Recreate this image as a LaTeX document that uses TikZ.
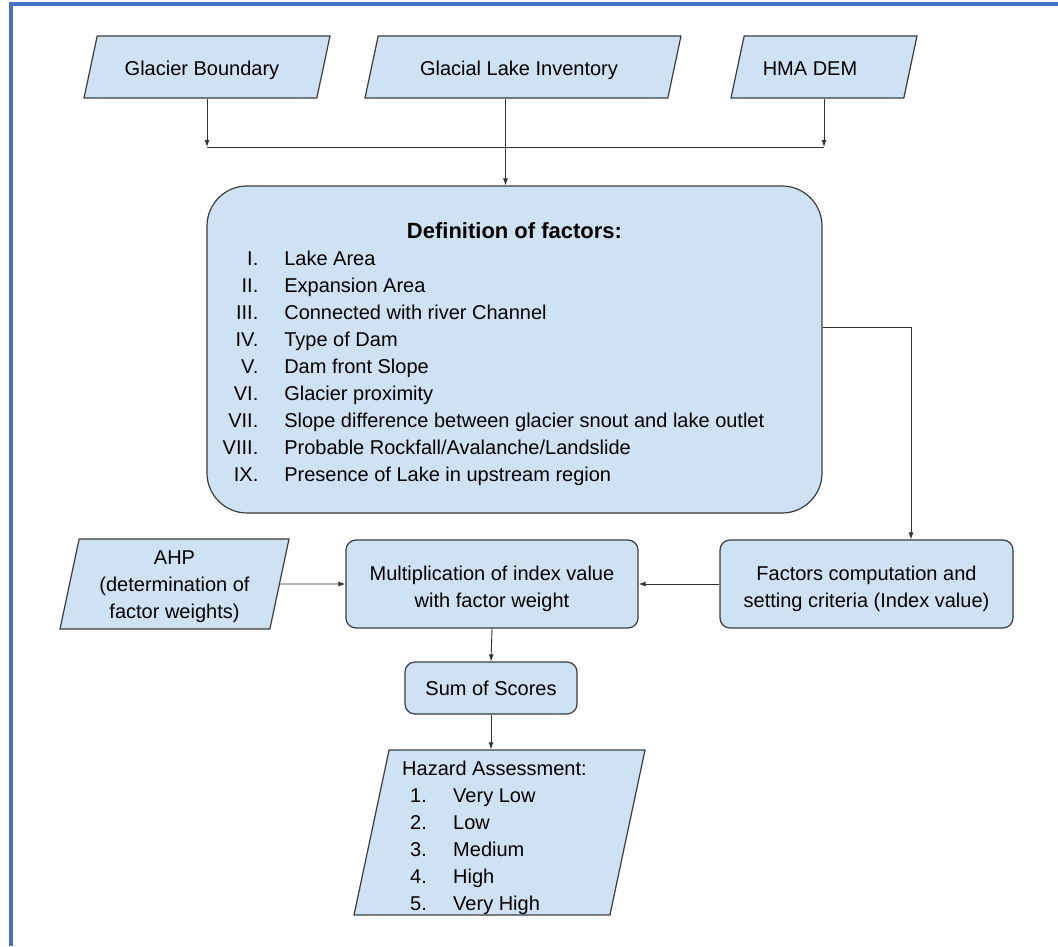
\documentclass[tikz,border=0pt]{standalone}
\usepackage{fontspec}
\setmainfont{Liberation Sans}
\usetikzlibrary{shapes.geometric,arrows.meta}

\definecolor{boxfill}{RGB}{207,226,243}
\definecolor{boxline}{RGB}{60,60,60}
\definecolor{framecol}{RGB}{68,114,196}

\tikzset{
  databox/.style={trapezium, trapezium left angle=78, trapezium right angle=102,
    trapezium stretches body, draw=boxline, fill=boxfill, line width=1.2pt, inner sep=0pt},
  procbox/.style={rectangle, rounded corners=10pt, draw=boxline, fill=boxfill,
    line width=1.2pt, align=center, inner sep=0pt},
  arr/.style={-{Latex[length=7pt,width=5pt]}, draw=black!80, line width=0.9pt}
}

\begin{document}
\begin{tikzpicture}[x=1pt,y=-1pt,font=\fontsize{20}{27}\selectfont]
\useasboundingbox (0,0) rectangle (1058,946);
\draw[framecol, line width=4pt] (11,946) -- (11,4) -- (1058,4);

        \begin{scope}[every node/.style={databox}]
          \node[minimum width=246pt, text height=20pt, text depth=4pt, inner ysep=19pt] (gb)  at (207,67)
            {Glacier Boundary\hspace{10pt}\mbox{}};
          \node[minimum width=316pt, text height=20pt, text depth=4pt, inner ysep=19pt] (gli) at (523,67)
            {Glacial Lake Inventory\hspace{8pt}\mbox{}};
          \node[minimum width=186pt, text height=20pt, text depth=4pt, inner ysep=19pt] (hma) at (824,67)
            {HMA DEM\hspace{28pt}\mbox{}};
          \node[minimum width=229pt, text height=71pt, text depth=2pt, inner ysep=8.5pt, align=center] (ahp) at (174.5,584)
            {AHP\\(determination of\\factor weights)};
          \node[minimum width=291pt, text height=91pt, text depth=71pt, inner ysep=1.5pt] (haz) at (499.5,832.5)
            {\begin{tabular}{@{\hspace{8pt}}p{43pt}@{}l@{}}
              \multicolumn{2}{@{}l@{}}{Hazard Assessment:}\\
              1. & Very Low\\
              2. & Low\\
              3. & Medium\\
              4. & High\\
              5. & Very High
            \end{tabular}\hspace{10pt}\mbox{}};
        \end{scope}

        \begin{scope}[every node/.style={procbox}]
          \node[rounded corners=40pt, minimum width=615pt, minimum height=327pt,
                text height=145pt, text depth=125pt] (def) at (514.5,349.5)
            {\begin{tabular}{@{}r@{\hspace{26pt}}l@{}}
              \multicolumn{2}{c}{\hspace{42pt}\fontsize{22}{27}\selectfont\bfseries Definition of factors:}\\
              I. & Lake Area\\
              II. & Expansion Area\\
              III. & Connected with river Channel\\
              IV. & Type of Dam\\
              V. & Dam front Slope\\
              VI. & Glacier proximity\\
              VII. & Slope difference between glacier snout and lake outlet\\
              VIII. & Probable Rockfall/Avalanche/Landslide\\
              IX. & Presence of Lake in upstream region
            \end{tabular}\hspace{42pt}\mbox{}};
          \node[minimum width=293pt, minimum height=88pt, text height=46pt, text depth=0pt] (fac)  at (866.5,584)
            {Factors computation and\\setting criteria (Index value)};
          \node[minimum width=292pt, minimum height=88pt, text height=46pt, text depth=0pt] (mult) at (492,584)
            {Multiplication of index value\\with factor weight};
          \node[minimum width=172pt, minimum height=52pt] (sum)  at (491,688)   {Sum of Scores};
        \end{scope}

        \coordinate (jn) at (514,147);
        \draw[arr] (gb.south) -- (gb.south |- jn);
        \draw[arr] (hma.south) -- (hma.south |- jn);
        \draw[draw=black!80, line width=0.9pt] (gb.south |- jn) -- (hma.south |- jn);
        \draw[arr] ([xshift=-9pt]def.north |- gli.south) -- ([xshift=-9pt]def.north);
        \draw[arr] ([yshift=22.5pt]def.east) -| ([xshift=44.5pt]fac.north);
        \draw[arr] (fac.west) -- (mult.east);
        \draw[arr] (ahp.east) -- (mult.west);
        \draw[arr] (mult.south) -- (sum.north);
        \draw[arr] (sum.south) -- (sum.south |- haz.north);

      \end{tikzpicture}
\end{document}
